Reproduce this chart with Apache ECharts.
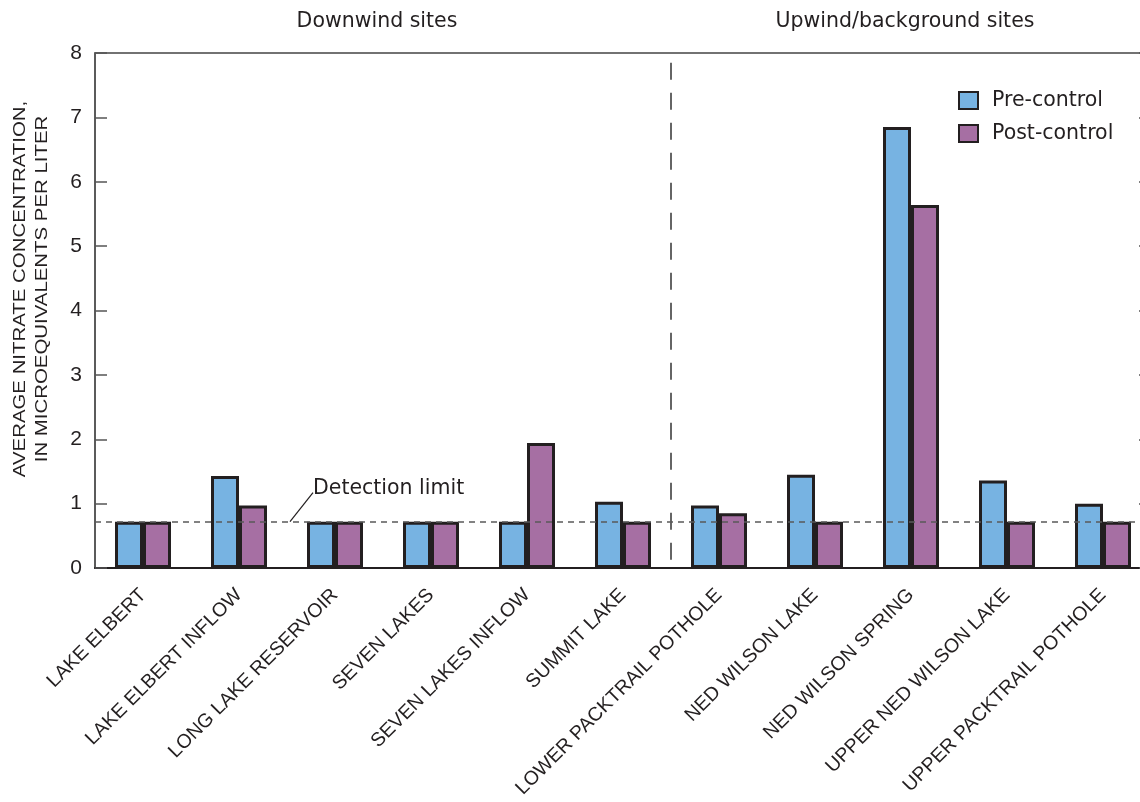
<!DOCTYPE html>
<html>
<head>
<meta charset="utf-8">
<script src="https://cdn.jsdelivr.net/npm/echarts@6/dist/echarts.min.js"></script>
<style>
  html, body { margin: 0; padding: 0; background: #fff; }
  #chart { width: 1140px; height: 802px; }
</style>
</head>
<body>
<div id="chart"></div>
<script>
// Sampling sites, in plot order
const sites = [
  'LAKE ELBERT', 'LAKE ELBERT INFLOW', 'LONG LAKE RESERVOIR', 'SEVEN LAKES',
  'SEVEN LAKES INFLOW', 'SUMMIT LAKE', 'LOWER PACKTRAIL POTHOLE',
  'NED WILSON LAKE', 'NED WILSON SPRING', 'UPPER NED WILSON LAKE',
  'UPPER PACKTRAIL POTHOLE'
];
// Average nitrate, microequivalents per liter
const preControl  = [0.72, 1.43, 0.72, 0.72, 0.72, 1.03, 0.97, 1.45, 6.85, 1.36, 1.00];
const postControl = [0.72, 0.97, 0.72, 0.72, 1.94, 0.72, 0.85, 0.72, 5.64, 0.72, 0.72];
const detectionLimit = 0.72;
const yTicks = [0, 1, 2, 3, 4, 5, 6, 7, 8];
// Index of the first upwind/background site
const firstUpwind = 6;

const FONT = '"Liberation Sans", Arial, sans-serif';
const WIDE = '"DejaVu Sans", sans-serif';
const INK = '#231f20';

const chart = echarts.init(document.getElementById('chart'), null, { renderer: 'canvas' });

const option = {
  backgroundColor: '#fff',
  animation: false,
  textStyle: { fontFamily: FONT, color: INK },
  grid: {
    left: 95, top: 53, width: 1056, height: 515,
    containLabel: false, outerBoundsMode: 'none',
    show: true, borderColor: '#444', borderWidth: 1.5, backgroundColor: 'transparent'
  },
  legend: {
    orient: 'vertical',
    left: 953, top: 85,
    itemWidth: 19, itemHeight: 17, itemGap: 12,
    icon: 'rect',
    textStyle: { fontFamily: WIDE, fontSize: 20.5, color: INK, padding: [0, 0, 0, 9] },
    data: ['Pre-control', 'Post-control']
  },
  xAxis: {
    type: 'category',
    data: sites,
    axisLine: { lineStyle: { color: INK, width: 2 } },
    axisTick: { show: false },
    axisLabel: {
      rotate: 45, margin: 24, interval: 0,
      fontFamily: FONT, fontSize: 19.5, color: INK
    }
  },
  yAxis: [
    {
      type: 'value', min: yTicks[0], max: yTicks[yTicks.length - 1], interval: 1,
      position: 'left',
      splitLine: { show: false },
      axisLine: { show: true, lineStyle: { color: '#555', width: 1.5 } },
      axisTick: { show: true, inside: true, length: 12, lineStyle: { color: '#555', width: 1.5 } },
      axisLabel: { fontFamily: FONT, fontSize: 21, color: INK, margin: 13 }
    },
    {
      type: 'value', min: yTicks[0], max: yTicks[yTicks.length - 1], interval: 1,
      position: 'right',
      splitLine: { show: false },
      axisLine: { show: true, lineStyle: { color: '#555', width: 1.5 } },
      axisTick: { show: true, inside: true, length: 12, lineStyle: { color: '#555', width: 1.5 } },
      axisLabel: { show: false }
    }
  ],
  series: [
    {
      name: 'Pre-control', type: 'bar', data: preControl,
      barWidth: 28, barGap: '0%',
      itemStyle: { color: '#77b3e2', borderColor: INK, borderWidth: 3 }
    },
    {
      name: 'Post-control', type: 'bar', data: postControl,
      barWidth: 28, barGap: '0%',
      itemStyle: { color: '#a66fa3', borderColor: INK, borderWidth: 3 },
      markLine: {
        silent: true, symbol: 'none', z: 10,
        label: { show: false },
        lineStyle: { color: '#5a5a5a', type: [6, 5], width: 1.6 },
        data: [{ yAxis: detectionLimit }]
      }
    }
  ]
};
chart.setOption(option);

// Annotations placed from axis coordinates
function drawAnnotations() {
  const left = chart.convertToPixel({ xAxisIndex: 0 }, sites[firstUpwind - 1]);
  const right = chart.convertToPixel({ xAxisIndex: 0 }, sites[firstUpwind]);
  const divX = (left + right) / 2;
  const yTop = chart.convertToPixel({ yAxisIndex: 0 }, 7.85);
  const yBot = chart.convertToPixel({ yAxisIndex: 0 }, 0.1);
  const yDet = chart.convertToPixel({ yAxisIndex: 0 }, detectionLimit);
  const x0 = chart.convertToPixel({ xAxisIndex: 0 }, sites[0]);
  const xLast = chart.convertToPixel({ xAxisIndex: 0 }, sites[sites.length - 1]);
  const downCenter = (x0 + left) / 2 - 6;
  const upCenter = (right + xLast) / 2 - 6;
  const leaderX = x0 + 147;

  chart.setOption({
    graphic: [
      {
        type: 'line', silent: true,
        shape: { x1: divX, y1: yTop, x2: divX, y2: yBot },
        style: { stroke: '#333', lineWidth: 1.5, lineDash: [17, 13] }
      },
      {
        type: 'line', silent: true,
        shape: { x1: leaderX, y1: yDet, x2: leaderX + 23, y2: yDet - 29 },
        style: { stroke: INK, lineWidth: 1.2 }
      },
      {
        type: 'text', silent: true,
        x: leaderX + 23, y: yDet - 22,
        style: { text: 'Detection limit', font: '20.5px ' + WIDE, fill: INK, textVerticalAlign: 'bottom', textAlign: 'left' }
      },
      {
        type: 'text', silent: true,
        x: downCenter, y: 22,
        style: { text: 'Downwind sites', font: '20.5px ' + WIDE, fill: INK, textAlign: 'center', textVerticalAlign: 'middle' }
      },
      {
        type: 'text', silent: true,
        x: upCenter, y: 22,
        style: { text: 'Upwind/background sites', font: '20.5px ' + WIDE, fill: INK, textAlign: 'center', textVerticalAlign: 'middle' }
      },
      {
        type: 'text', silent: true,
        x: 31, y: 289, rotation: Math.PI / 2, scaleX: 1.2,
        style: {
          text: 'AVERAGE NITRATE CONCENTRATION,\nIN MICROEQUIVALENTS PER LITER',
          font: '17px ' + FONT, fill: INK, textAlign: 'center', textVerticalAlign: 'middle', lineHeight: 22
        }
      }
    ]
  });
}
drawAnnotations();
</script>
</body>
</html>
